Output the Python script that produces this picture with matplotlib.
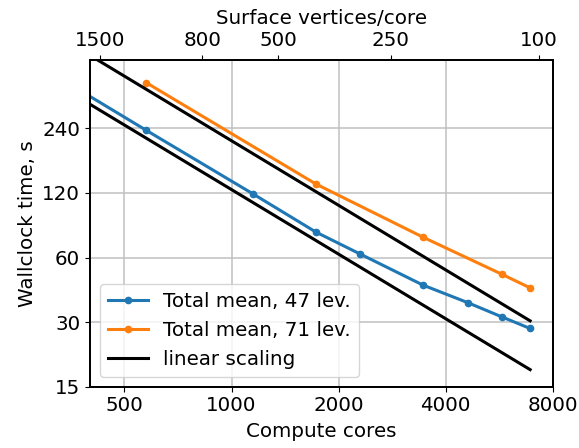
import matplotlib
matplotlib.use("Agg")
import matplotlib.pyplot as plt
from matplotlib.ticker import FixedLocator, NullLocator, FixedFormatter

# Data
cores_47 = [288, 576, 1152, 1728, 2304, 3456, 4608, 5760, 6912]
time_47 = [470, 235, 118.5, 78.8, 62.2, 44.6, 37.0, 31.7, 28.0]

cores_71 = [576, 1728, 3456, 5760, 6912]
time_71 = [392, 132, 74.6, 50.1, 43.3]

lin_cores = [288, 6912]
lin_upper = [730, 30.4]
lin_lower = [432, 18.0]

x_ticks = [500, 1000, 2000, 4000, 8000]
y_ticks = [15, 30, 60, 120, 240]
top_ticks = [1500, 800, 500, 250, 100]

plt.rcParams['font.size'] = 14.3

fig = plt.figure(figsize=(5.79, 4.48), dpi=100)
ax = fig.add_axes([0.1554, 0.137, 0.7992, 0.729])

ax.plot(cores_47, time_47, marker='o', markersize=4.5, lw=2.2, color='tab:blue',
        label='Total mean, 47 lev.')
ax.plot(cores_71, time_71, marker='o', markersize=4.5, lw=2.2, color='tab:orange',
        label='Total mean, 71 lev.')
ax.plot(lin_cores, lin_upper, color='black', lw=2.2, label='linear scaling')
ax.plot(lin_cores, lin_lower, color='black', lw=2.2)

ax.set_xscale('log')
ax.set_yscale('log')
ax.set_xlim(400, 8000)
ax.set_ylim(15, 500)

ax.xaxis.set_major_locator(FixedLocator(x_ticks))
ax.xaxis.set_major_formatter(FixedFormatter([str(t) for t in x_ticks]))
ax.xaxis.set_minor_locator(NullLocator())
ax.yaxis.set_major_locator(FixedLocator(y_ticks))
ax.yaxis.set_major_formatter(FixedFormatter([str(t) for t in y_ticks]))
ax.yaxis.set_minor_locator(NullLocator())

ax.grid(True, color='#c0c0c0', lw=1.1)
ax.set_xlabel('Compute cores', labelpad=5)
ax.set_ylabel('Wallclock time, s')
ax.legend(loc='lower left')

# top axis: surface vertices per core
ax2 = ax.twiny()
ax2.set_xscale('log')
ax2.set_xlim(1600, 92)
ax2.xaxis.set_major_locator(FixedLocator(top_ticks))
ax2.xaxis.set_major_formatter(FixedFormatter([str(t) for t in top_ticks]))
ax2.xaxis.set_minor_locator(NullLocator())
ax2.set_xlabel('Surface vertices/core', labelpad=5)

for a in (ax, ax2):
    for s in a.spines.values():
        s.set_linewidth(1.3)

fig.savefig('out.png', dpi=100)
